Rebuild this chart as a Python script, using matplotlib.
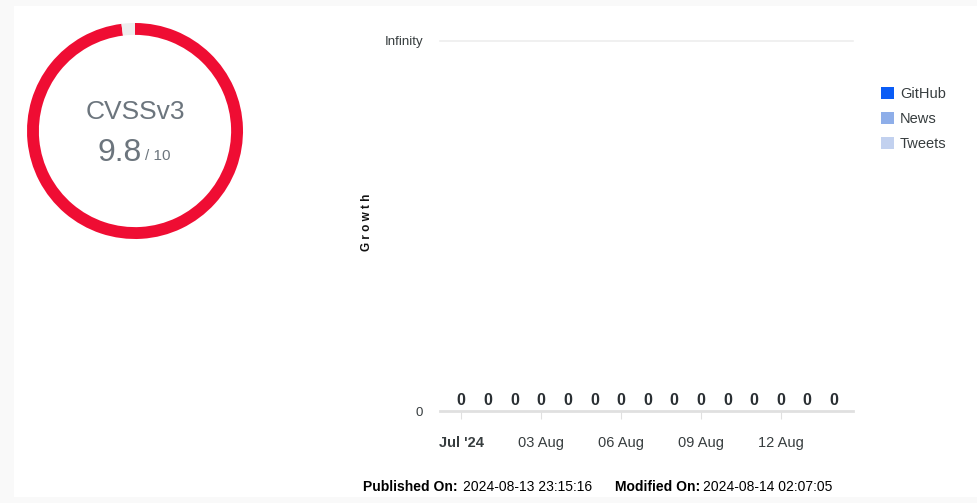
import matplotlib
matplotlib.use("Agg")
import matplotlib.pyplot as plt
import matplotlib.dates as mdates
from matplotlib.patches import Patch, Rectangle
import numpy as np

# data
score = 9.8
score_max = 10
dates = ["2024-07-31", "2024-08-01", "2024-08-02", "2024-08-03", "2024-08-04",
         "2024-08-05", "2024-08-06", "2024-08-07", "2024-08-08", "2024-08-09",
         "2024-08-10", "2024-08-11", "2024-08-12", "2024-08-13", "2024-08-14"]
github = [0, 0, 0, 0, 0, 0, 0, 0, 0, 0, 0, 0, 0, 0, 0]
news = [0, 0, 0, 0, 0, 0, 0, 0, 0, 0, 0, 0, 0, 0, 0]
tweets = [0, 0, 0, 0, 0, 0, 0, 0, 0, 0, 0, 0, 0, 0, 0]
series_names = ["GitHub", "News", "Tweets"]
series_colors = ["#0a5cf6", "#8eaee9", "#c2d1ef"]
tick_dates = ["2024-07-31", "2024-08-03", "2024-08-06", "2024-08-09", "2024-08-12"]
tick_labels = ["Jul '24", "03 Aug", "06 Aug", "09 Aug", "12 Aug"]
published = "2024-08-13 23:15:16"
modified = "2024-08-14 02:07:05"

W, H = 978, 503
fig = plt.figure(figsize=(W / 100, H / 100), dpi=100, facecolor="#f9f9f9")
fig.patches.append(Rectangle((14 / W, 6 / H), 1, (497 - 6) / H, transform=fig.transFigure,
                             facecolor="white", edgecolor="none", zorder=-10))

def box(x0, y0, x1, y1):
    return [x0 / W, 1 - y1 / H, (x1 - x0) / W, (y1 - y0) / H]

# donut
axd = fig.add_axes(box(27, 23, 243, 239))
axd.patch.set_visible(False)
axd.pie([score, score_max - score], colors=["#ef0d33", "#eeeeee"], startangle=90,
        counterclock=False, radius=1, wedgeprops=dict(width=0.11, edgecolor="none"))
axd.set_xlim(-1, 1)
axd.set_ylim(-1, 1)
axd.set_aspect("equal")
axd.axis("off")
axd.text(0, 0.18, "CVSSv3", ha="center", va="center", fontsize=19,
         color="#6c757d", family="Liberation Sans")
axd.text(0.06, -0.2, f"{score}", ha="right", va="center", fontsize=23,
         color="#6c757d", family="Liberation Sans")
axd.text(0.09, -0.23, f"/ {score_max}", ha="left", va="center", fontsize=11,
         color="#6c757d", family="Liberation Sans")

# growth chart
ax = fig.add_axes(box(440, 41, 853, 411))
ax.patch.set_visible(False)
x = mdates.datestr2num(dates)
g = np.array(github)
n = np.array(news)
t = np.array(tweets)
ax.bar(x, g, width=0.6, color=series_colors[0])
ax.bar(x, n, bottom=g, width=0.6, color=series_colors[1])
ax.bar(x, t, bottom=g + n, width=0.6, color=series_colors[2])
total = g + n + t
for xi, v in zip(x, total):
    ax.annotate(str(v), (xi, v), xytext=(0, 2), textcoords="offset points",
                ha="center", va="bottom", fontsize=11.5, fontweight="bold",
                color="#2a2f33", family="Liberation Sans")

ax.set_xlim(x[0] - 0.8, x[-1] + 0.72)
ax.set_ylim(0, 1)
for s in ["top", "right", "left"]:
    ax.spines[s].set_visible(False)
ax.spines["bottom"].set_color("#e0e0e0")
ax.spines["bottom"].set_linewidth(2)
ax.axhline(1, color="#eeeeee", lw=1.2, clip_on=False)

ax.set_yticks([0, 1])
ax.set_yticklabels(["0", "Infinity"], fontsize=9.5, color="#373d3f", family="Liberation Sans")
ax.tick_params(axis="y", length=0, pad=12)
ax.set_xticks(mdates.datestr2num(tick_dates))
ax.set_xticklabels(tick_labels, fontsize=10.5, color="#373d3f", family="Liberation Sans")
ax.get_xticklabels()[0].set_fontweight("bold")
ax.tick_params(axis="x", length=6, color="#e0e0e0", pad=12)
ax.set_ylabel("G r o w t h", fontsize=8.5, fontweight="bold", color="#111111",
              family="Liberation Sans")
ax.yaxis.set_label_coords(-0.162, 0.51)

handles = [Patch(facecolor=c, edgecolor="none") for c in series_colors]
fig.legend(handles, series_names, loc="upper left", bbox_to_anchor=(868 / W, 1 - 74 / H),
           frameon=False, handlelength=0.9, handleheight=0.9, handletextpad=0.4,
           labelspacing=0.75, prop=dict(family="Liberation Sans", size=10.5),
           labelcolor="#373d3f")

# footer
fig.text(363 / W, 1 - 487 / H, "Published On:", fontsize=10, fontweight="bold",
         va="center", family="Liberation Sans")
fig.text(463 / W, 1 - 487 / H, published, fontsize=10, va="center", family="Liberation Sans")
fig.text(615 / W, 1 - 487 / H, "Modified On:", fontsize=10, fontweight="bold",
         va="center", family="Liberation Sans")
fig.text(703 / W, 1 - 487 / H, modified, fontsize=10, va="center", family="Liberation Sans")

fig.savefig("out.png", dpi=100, facecolor=fig.get_facecolor())
